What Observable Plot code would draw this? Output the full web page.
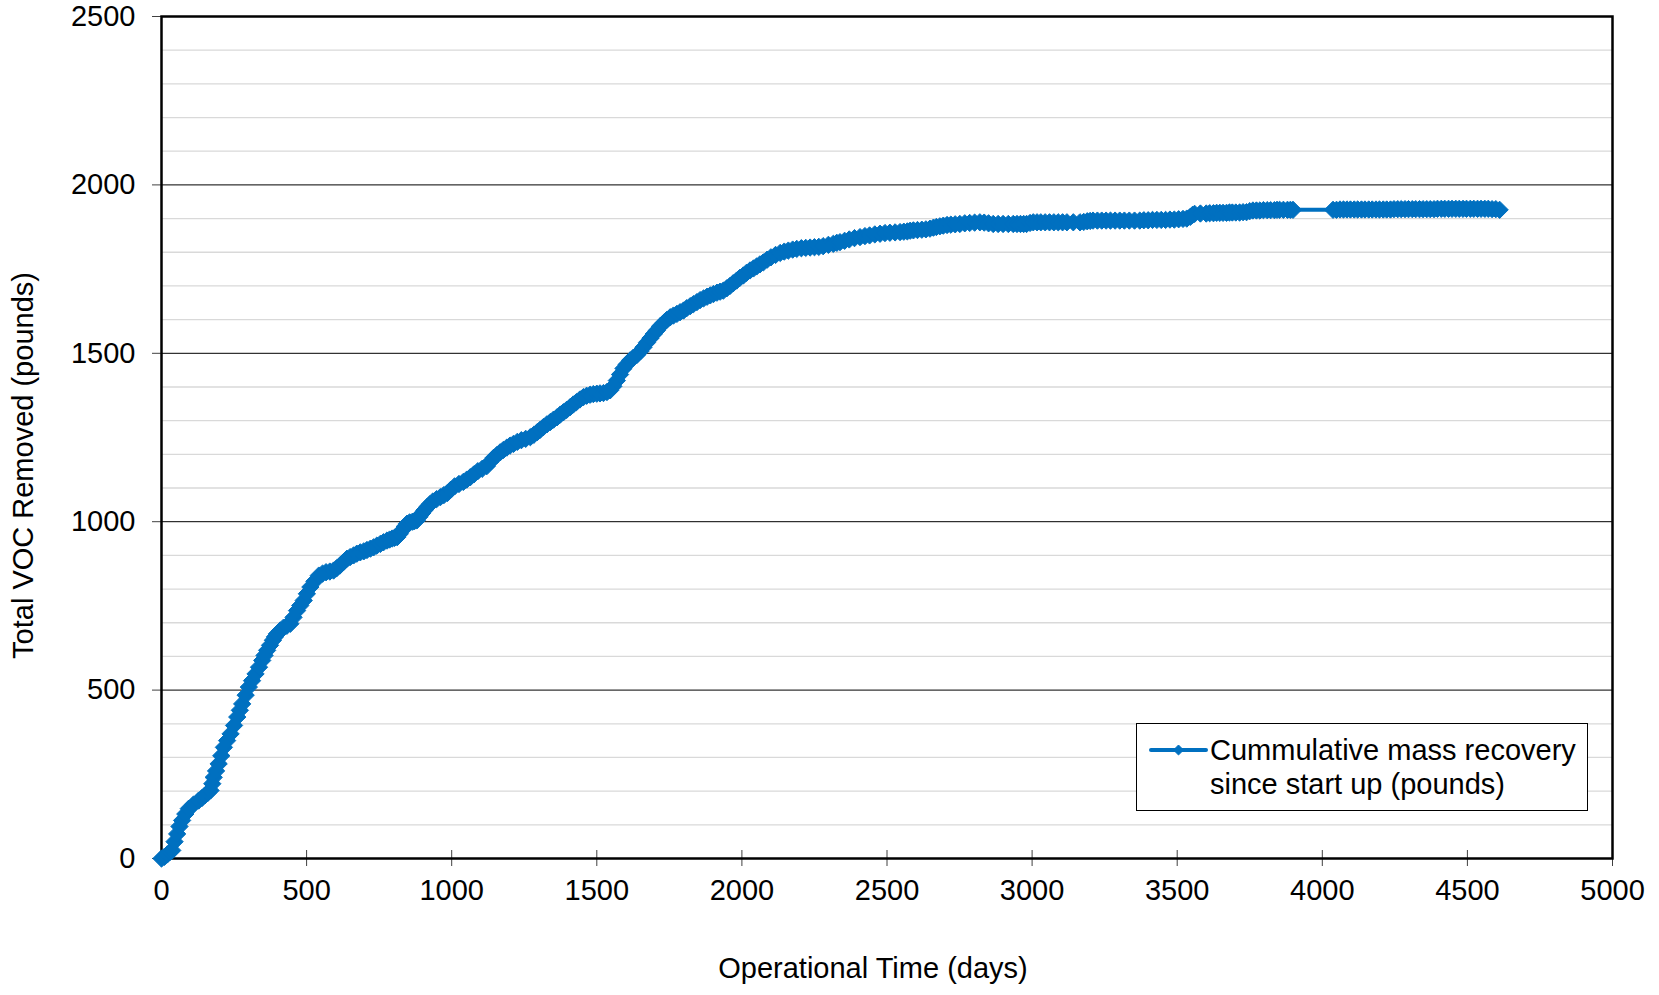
<!DOCTYPE html>
<html>
<head>
<meta charset="utf-8">
<script src="https://cdn.jsdelivr.net/npm/d3@7"></script>
<script src="https://cdn.jsdelivr.net/npm/@observablehq/plot@0.6"></script>
<style>
  html, body { margin: 0; padding: 0; background: #fff; }
  #chart { position: relative; width: 1659px; height: 995px; }
  svg { font-family: "Liberation Sans", Arial, sans-serif; }
</style>
</head>
<body>
<div id="chart"></div>
<script>
// Operational time (days)
const days = [
  0, 10, 20, 30, 37, 45, 54, 62, 71, 82,
  94, 110, 128, 140, 150, 160, 169, 175, 180, 188,
  197, 206, 215, 226, 238, 250, 261, 270, 278, 290,
  301, 312, 324, 336, 347, 355, 364, 374, 384, 391,
  398, 409, 420, 432, 444, 455, 467, 478, 490, 501,
  513, 527, 542, 555, 567, 580, 593, 604, 615, 627,
  639, 650, 662, 673, 685, 697, 708, 720, 731, 742,
  754, 765, 777, 786, 795, 803, 812, 821, 830, 838,
  846, 855, 865, 872, 880, 889, 898, 906, 915, 925,
  935, 948, 961, 973, 985, 997, 1010, 1025, 1040, 1052,
  1064, 1077, 1090, 1105, 1121, 1133, 1145, 1156, 1167, 1178,
  1190, 1201, 1213, 1226, 1240, 1255, 1271, 1283, 1295, 1305,
  1316, 1328, 1340, 1351, 1363, 1374, 1385, 1396, 1408, 1419,
  1430, 1442, 1454, 1465, 1477, 1488, 1500, 1511, 1523, 1535,
  1546, 1557, 1569, 1580, 1592, 1603, 1615, 1626, 1638, 1650,
  1661, 1673, 1685, 1696, 1707, 1718, 1730, 1741, 1753, 1764,
  1776, 1787, 1799, 1810, 1822, 1833, 1845, 1856, 1868, 1880,
  1891, 1902, 1914, 1925, 1936, 1948, 1959, 1970, 1982, 1993,
  2005, 2016, 2028, 2040, 2051, 2062, 2074, 2087, 2100, 2116,
  2132, 2146, 2160, 2175, 2189, 2205, 2220, 2235, 2250, 2265,
  2280, 2298, 2315, 2327, 2338, 2354, 2370, 2388, 2407, 2424,
  2440, 2458, 2476, 2493, 2510, 2528, 2545, 2558, 2570, 2580,
  2591, 2605, 2620, 2634, 2648, 2660, 2670, 2682, 2694, 2707,
  2720, 2735, 2751, 2768, 2785, 2802, 2820, 2835, 2850, 2866,
  2883, 2900, 2918, 2935, 2948, 2960, 2971, 2981, 2993, 3004,
  3017, 3030, 3045, 3060, 3075, 3090, 3105, 3120, 3142, 3165,
  3178, 3190, 3200, 3210, 3225, 3240, 3255, 3270, 3286, 3302,
  3318, 3335, 3353, 3371, 3385, 3400, 3415, 3430, 3445, 3460,
  3475, 3490, 3505, 3520, 3533, 3545, 3553, 3560, 3580, 3600,
  3612, 3625, 3636, 3647, 3658, 3670, 3680, 3690, 3702, 3715,
  3727, 3739, 3750, 3761, 3773, 3785, 3797, 3810, 3822, 3835,
  3844, 3853, 3866, 3880, 3890, 3899, 4037, 4049, 4061, 4073,
  4085, 4097, 4110, 4122, 4135, 4147, 4160, 4172, 4185, 4197,
  4210, 4222, 4235, 4247, 4260, 4272, 4285, 4297, 4310, 4322,
  4335, 4347, 4360, 4372, 4385, 4397, 4410, 4422, 4435, 4447,
  4460, 4472, 4485, 4497, 4510, 4522, 4535, 4547, 4560, 4572,
  4585, 4598, 4611
];
// Total VOC removed (pounds)
const voc = [
  0, 5, 12, 20, 24, 50, 73, 95, 113, 132,
  148, 160, 172, 180, 188, 195, 202, 222, 241, 260,
  281, 305, 330, 350, 370, 395, 420, 440, 459, 485,
  509, 528, 548, 568, 588, 603, 618, 633, 648, 658,
  667, 677, 685, 691, 697, 716, 736, 751, 766, 786,
  806, 823, 840, 846, 850, 852, 855, 862, 870, 880,
  890, 895, 900, 905, 909, 912, 916, 920, 924, 929,
  934, 939, 944, 947, 950, 952, 954, 964, 975, 985,
  994, 998, 1000, 1002, 1004, 1015, 1025, 1034, 1043, 1052,
  1060, 1067, 1073, 1079, 1085, 1095, 1105, 1112, 1118, 1125,
  1132, 1141, 1150, 1157, 1165, 1178, 1190, 1198, 1206, 1213,
  1220, 1226, 1231, 1237, 1242, 1246, 1251, 1258, 1266, 1273,
  1281, 1289, 1296, 1303, 1310, 1318, 1325, 1332, 1340, 1348,
  1355, 1363, 1370, 1374, 1377, 1379, 1380, 1381, 1382, 1385,
  1390, 1402, 1419, 1437, 1455, 1467, 1479, 1487, 1495, 1506,
  1518, 1532, 1545, 1557, 1568, 1580, 1590, 1599, 1607, 1612,
  1617, 1622, 1627, 1634, 1640, 1646, 1652, 1658, 1663, 1668,
  1672, 1676, 1680, 1683, 1686, 1693, 1700, 1708, 1716, 1724,
  1731, 1739, 1746, 1752, 1758, 1764, 1770, 1778, 1785, 1792,
  1798, 1802, 1805, 1808, 1810, 1812, 1813, 1814, 1815, 1816,
  1818, 1822, 1825, 1828, 1830, 1834, 1838, 1842, 1845, 1848,
  1850, 1853, 1855, 1857, 1858, 1859, 1860, 1861, 1862, 1864,
  1865, 1866, 1867, 1868, 1870, 1873, 1875, 1877, 1879, 1881,
  1882, 1883, 1884, 1886, 1887, 1888, 1889, 1888, 1886, 1884,
  1884, 1884, 1884, 1884, 1884, 1884, 1884, 1884, 1887, 1889,
  1889, 1889, 1889, 1889, 1889, 1889, 1889, 1889, 1889, 1889,
  1890, 1892, 1893, 1894, 1894, 1894, 1894, 1894, 1894, 1894,
  1894, 1894, 1894, 1894, 1895, 1895, 1896, 1896, 1896, 1896,
  1897, 1897, 1898, 1899, 1900, 1905, 1911, 1914, 1915, 1915,
  1916, 1916, 1917, 1917, 1917, 1917, 1918, 1918, 1918, 1918,
  1919, 1919, 1922, 1924, 1924, 1924, 1925, 1925, 1925, 1925,
  1926, 1926, 1926, 1926, 1926, 1926, 1926, 1926, 1927, 1927,
  1927, 1927, 1927, 1927, 1927, 1927, 1927, 1927, 1927, 1927,
  1927, 1927, 1927, 1928, 1928, 1928, 1928, 1928, 1928, 1928,
  1928, 1928, 1928, 1928, 1928, 1929, 1929, 1929, 1929, 1929,
  1929, 1929, 1929, 1929, 1929, 1929, 1929, 1929, 1929, 1929,
  1928, 1928, 1926
];
const xTicks = [0, 500, 1000, 1500, 2000, 2500, 3000, 3500, 4000, 4500, 5000];
const yMajor = [0, 500, 1000, 1500, 2000, 2500];
const yMinor = d3.range(100, 2500, 100).filter(v => v % 500 !== 0);
const seriesName = ["Cummulative mass recovery", "since start up (pounds)"];
const xTitle = "Operational Time (days)";
const yTitle = "Total VOC Removed (pounds)";

const n = Math.min(days.length, voc.length);
const data = d3.range(n).map(i => ({day: days[i], voc: voc[i]}));
const blue = "#0070C0";
const FS = 29;

const chart = Plot.plot({
  width: 1659,
  height: 995,
  marginLeft: 161,
  marginRight: 47,
  marginTop: 16,
  marginBottom: 137,
  style: {fontFamily: '"Liberation Sans", Arial, sans-serif', fontSize: FS + "px", color: "#000", background: "#fff"},
  x: {domain: [0, 5000]},
  y: {domain: [0, 2500]},
  marks: [
    Plot.ruleY(yMinor, {stroke: "#d9d9d9", strokeWidth: 1.3}),
    Plot.ruleY(yMajor, {stroke: "#000", strokeWidth: 1}),
    Plot.axisY({ticks: yMajor, tickSize: 9, tickPadding: 17, tickFormat: d => String(d), fontSize: FS, stroke: "#404040", label: null}),
    Plot.axisX({ticks: xTicks, tickSize: 8, tickPadding: 13, tickFormat: d => String(d), fontSize: FS, stroke: "#404040", label: null}),
    Plot.axisX({ticks: xTicks, tickSize: 8, dy: -8, text: null, stroke: "#404040", label: null}),
    Plot.frame({stroke: "#000", strokeWidth: 2.5}),
    Plot.line(data, {x: "day", y: "voc", stroke: blue, strokeWidth: 4}),
    Plot.dot(data, {x: "day", y: "voc", symbol: "diamond2", r: 7.8, fill: blue, stroke: blue, strokeWidth: 1}),
    Plot.text([xTitle], {frameAnchor: "bottom", textAnchor: "middle", lineAnchor: "middle", dy: 110, dx: -14, fontSize: FS, fill: "#000"}),
    Plot.text([yTitle], {frameAnchor: "left", textAnchor: "middle", lineAnchor: "middle", rotate: -90, dx: -138, dy: 28, fontSize: FS, fill: "#000"})
  ]
});

document.getElementById("chart").appendChild(chart);

// Legend drawn inside the plot area
const svg = d3.select(chart);
const lg = svg.append("g").attr("text-anchor", "start");
lg.append("rect").attr("x", 1136.5).attr("y", 723.5).attr("width", 451).attr("height", 87)
  .attr("fill", "#fff").attr("stroke", "#000").attr("stroke-width", 1);
lg.append("line").attr("x1", 1151).attr("x2", 1206).attr("y1", 750).attr("y2", 750)
  .attr("stroke", blue).attr("stroke-width", 4).attr("stroke-linecap", "round");
lg.append("path").attr("d", d3.symbol(d3.symbolDiamond2, Math.PI * 4.5 * 4.5)())
  .attr("transform", "translate(1178.5,750)").attr("fill", blue).attr("stroke", blue);
seriesName.forEach((t, i) => {
  lg.append("text").attr("x", 1210).attr("y", 760 + i * 34).attr("font-size", FS)
    .attr("text-anchor", "start").attr("fill", "#000").text(t);
});
</script>
</body>
</html>
